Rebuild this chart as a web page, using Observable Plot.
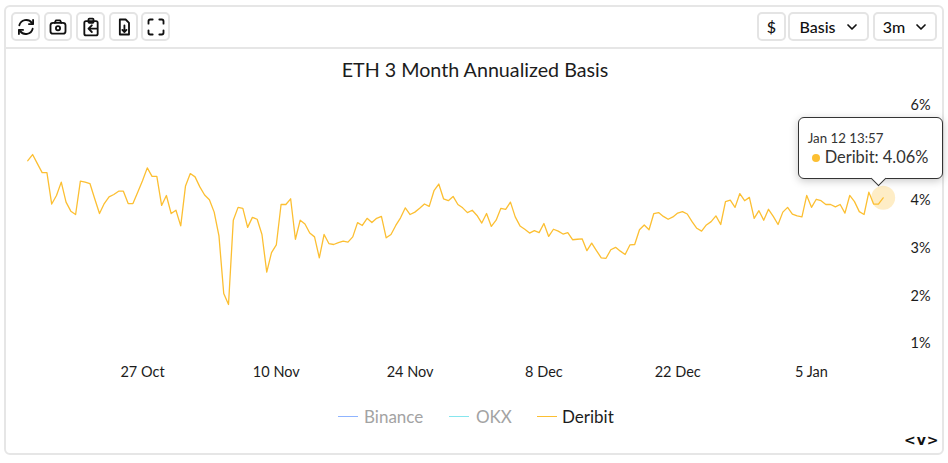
<!DOCTYPE html>
<html><head><meta charset="utf-8">
<script src="https://cdn.jsdelivr.net/npm/d3@7"></script>
<script src="https://cdn.jsdelivr.net/npm/@observablehq/plot@0.6"></script>
<style>
html,body{margin:0;padding:0;background:#fff;width:948px;height:463px;overflow:hidden;font-family:Lato,sans-serif;color:#1a1a1a}
#frame{position:absolute;left:4px;top:5px;width:936px;height:446px;border:2px solid #e6e6e6;border-radius:6px}
#bar{position:absolute;left:6px;top:47px;width:936px;height:2px;background:#e6e6e6}
.btn{position:absolute;top:12px;height:25px;border:2px solid #e4e4e4;border-radius:5px;display:flex;align-items:center;justify-content:center;font-size:16px;font-weight:500;background:#fff;box-sizing:content-box;color:#111}
.btn svg{display:block}
#title{position:absolute;left:0;width:950px;top:57px;text-align:center;font-size:19.7px;line-height:26px;color:#1c1c1c}
#chart{position:absolute;left:0;top:0}
#tip{position:absolute;box-sizing:border-box;width:145px;height:62px;background:#fff;border:1px solid #333;border-radius:6px;box-shadow:0 2px 8px rgba(0,0,0,.22);color:#333}
#tip .d{position:absolute;left:9px;top:11px;font-size:13.3px;line-height:18px;white-space:nowrap}
#tip .v{position:absolute;left:26px;top:29px;font-size:16.4px;line-height:20px;white-space:nowrap}
#tip .o{position:absolute;left:13px;top:36px;width:8px;height:8px;border-radius:50%;background:#fcbf32}
#tip .a{position:absolute;left:74px;top:55px;width:10px;height:10px;background:#fff;border-right:1px solid #333;border-bottom:1px solid #333;transform:rotate(45deg)}
.lg{position:absolute;top:406px;font-size:17px;line-height:21px;white-space:nowrap}
.ll{position:absolute;top:416px;width:20px;height:1px}
#nav{position:absolute;left:904px;top:432px;font-size:14px;font-weight:900;font-family:"DejaVu Sans",sans-serif;letter-spacing:1px;line-height:16px;color:#111}
</style></head><body>
<div id="frame"></div><div id="bar"></div>
<div id="tools"></div>
<div id="title"></div>
<div id="chart"></div>
<div id="legend"></div>
<div id="nav">&lt;v&gt;</div>
<script>
const chartTitle = "ETH 3 Month Annualized Basis";
const deribit = [
4.84,4.97,4.78,4.59,4.59,3.93,4.11,4.39,3.97,3.78,3.71,4.41,4.39,4.36,4.04,3.73,3.94,4.08,4.13,4.20,4.20,3.94,3.94,4.18,4.42,4.69,4.51,4.51,3.90,4.11,3.73,3.80,3.47,4.31,4.57,4.50,4.29,4.12,4.02,3.76,3.26,2.05,1.82,
3.59,3.86,3.84,3.44,3.65,3.61,3.29,2.50,2.91,3.07,3.92,3.92,4.04,3.19,3.59,3.51,3.32,3.24,2.80,3.29,3.10,3.08,3.12,3.15,3.13,3.24,3.54,3.48,3.63,3.54,3.63,3.67,3.22,3.29,3.48,3.64,3.85,3.71,3.76,3.84,3.93,3.88,4.21,4.35,4.04,4.00,
4.09,3.92,3.85,3.75,3.80,3.69,3.53,3.73,3.46,3.59,3.84,3.82,3.97,3.66,3.47,3.40,3.32,3.37,3.33,3.52,3.25,3.40,3.36,3.30,3.33,3.18,3.19,3.20,2.95,3.11,2.95,2.80,2.79,2.97,3.02,2.94,2.87,3.07,3.08,3.39,3.49,3.39,3.73,3.75,3.67,3.61,
3.66,3.74,3.77,3.72,3.56,3.42,3.36,3.49,3.56,3.68,3.50,3.98,4.01,3.86,4.15,4.00,4.07,3.63,3.79,3.59,3.82,3.67,3.50,3.76,3.86,3.72,3.68,3.66,4.11,3.86,4.03,4.00,3.92,3.92,3.87,3.92,3.74,4.11,3.98,3.77,3.71,4.18,3.93,3.93,4.06];
const lastTime = new Date(Date.UTC(2025,0,12,12,0));
const stepMs = 12*3600*1000;
const times = deribit.map((_,i)=>new Date(+lastTime-(deribit.length-1-i)*stepMs));
const tickDates = [Date.UTC(2024,9,27),Date.UTC(2024,10,10),Date.UTC(2024,10,24),Date.UTC(2024,11,8),Date.UTC(2024,11,22),Date.UTC(2025,0,5)].map(d=>new Date(d));
const tickLabels = ["27 Oct","10 Nov","24 Nov","8 Dec","22 Dec","5 Jan"];
const yTicks = [1,2,3,4,6];
const legendNames = ["Binance","OKX","Deribit"];
const legendColors = ["#8fb4ff","#86e6ee","#fcbf32"];
const tipDate = "Jan 12 13:57";
const table = times.map((t,i)=>({t,v:deribit[i]}));
const last = table[table.length-1];

const plot = Plot.plot({
  width:948,height:463,marginTop:0,marginLeft:0,marginRight:38,marginBottom:97,
  style:{background:"transparent",fontFamily:"Lato,sans-serif",fontSize:"14.5px",color:"#1c1c1c",overflow:"visible"},
  x:{type:"utc",domain:[tickDates[0],tickDates[5]],range:[142,811]},
  y:{type:"linear",domain:[1,6],range:[343,105]},
  marks:[
    Plot.axisX({ticks:tickDates,tickFormat:d=>tickLabels[tickDates.findIndex(t=>+t===+d)],tickSize:0,tickPadding:0,label:null,anchor:"bottom"}),
    Plot.axisY({ticks:yTicks,tickFormat:d=>d+"%",tickSize:0,tickPadding:0,label:null,anchor:"right"}),
    Plot.dot([last],{x:"t",y:"v",r:12,fill:"#fcbf32",fillOpacity:0.28}),
    Plot.line(table,{x:"t",y:"v",stroke:"#fcbf32",strokeWidth:1.3,curve:"linear"})
  ]
});
document.getElementById("chart").appendChild(plot);
document.getElementById("title").textContent = chartTitle;

// tooltip anchored through the plot's own scales
const px = plot.scale("x").apply(last.t), py = plot.scale("y").apply(last.v);
const tip = document.createElement("div"); tip.id="tip";
tip.style.left=(px-85)+"px"; tip.style.top=(py-80)+"px";
tip.innerHTML=`<div class="a"></div><div class="d">${tipDate}</div><div class="o"></div><div class="v">Deribit: ${last.v.toFixed(2)}%</div>`;
document.body.appendChild(tip);

// legend
const lg=document.getElementById("legend");
[[338,364],[449,476],[537,562]].forEach(([a,b],i)=>{
  lg.insertAdjacentHTML("beforeend",`<div class="ll" style="left:${a}px;background:${legendColors[i]}"></div><div class="lg" style="left:${b}px;color:${i<2?"#a3a3a3":"#1c1c1c"}">${legendNames[i]}</div>`);
});

// toolbar
const ic=(p)=>`<svg width="20" height="20" viewBox="0 0 24 24" fill="none" stroke="#111" stroke-width="2.2" stroke-linecap="round" stroke-linejoin="round">${p}</svg>`;
const tools=[
 [11,25,ic('<path d="M4 10a8.5 8.5 0 0 1 15-3l1 1.5"/><path d="M20.5 3.5v5h-5"/><path d="M20 14a8.5 8.5 0 0 1-15 3l-1-1.5"/><path d="M3.5 20.5v-5h5"/>')],
 [44,24,ic('<rect x="3" y="7" width="18" height="13" rx="3"/><path d="M8 7l1.5-3h5L16 7"/><circle cx="12" cy="13.5" r="2.5"/>')],
 [76,25,ic('<rect x="4" y="5" width="16" height="17" rx="2"/><rect x="9" y="2" width="6" height="5" rx="1"/><path d="M19 14h-9M13 10l-4 4 4 4"/>')],
 [109,25,ic('<path d="M7 3h7l4 4v14H7z"/><path d="M12.500 10v8M10 15.500l2.500 2.500 2.500-2.500"/>')],
 [141,25,ic('<path d="M3 8V5a2 2 0 0 1 2-2h3M16 3h3a2 2 0 0 1 2 2v3M21 16v3a2 2 0 0 1-2 2h-3M8 21H5a2 2 0 0 1-2-2v-3"/>')]
];
const T=document.getElementById("tools");
const chev='<svg width="12" height="8" viewBox="0 0 12 8" fill="none" stroke="#111" stroke-width="1.7" stroke-linecap="round" stroke-linejoin="round"><path d="M2 2l4 4 4-4"/></svg>';
tools.forEach(([l,w,s])=>T.insertAdjacentHTML("beforeend",`<div class="btn" style="left:${l}px;width:${w}px">${s}</div>`));
[[757,25,"$"],[788,77,"Basis"],[873,60,"3m"]].forEach(([l,w,t],i)=>T.insertAdjacentHTML("beforeend",`<div class="btn" style="left:${l}px;width:${w}px;gap:${i?10:0}px">${t}${i?chev:""}</div>`));
</script>
</body></html>
